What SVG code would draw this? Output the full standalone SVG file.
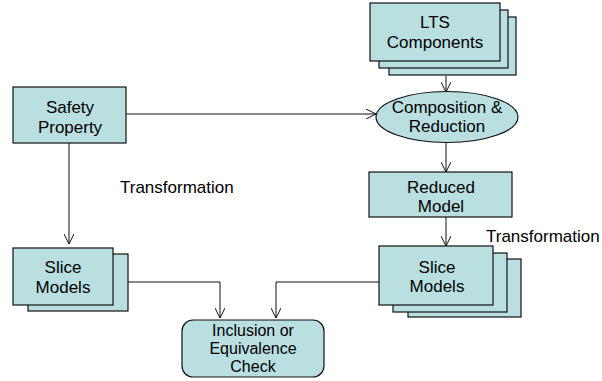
<svg xmlns="http://www.w3.org/2000/svg" width="602" height="381" viewBox="0 0 602 381">
<style>
.n{fill:#b9dfe1;stroke:#111;stroke-width:1.2}
.t{font-family:"Liberation Sans",Arial,sans-serif;font-size:17px;fill:#000;text-anchor:middle}
.s{font-size:16px}
.l{font-family:"Liberation Sans",Arial,sans-serif;font-size:17px;fill:#000}
.c{fill:none;stroke:#111;stroke-width:1}
</style>
<defs>
<marker id="a" viewBox="0 0 10 10" refX="10" refY="5" markerWidth="10" markerHeight="10" markerUnits="userSpaceOnUse" orient="auto">
<path d="M0,0 L10,5 L0,10" fill="none" stroke="#111" stroke-width="1"/>
</marker>
</defs>
<g id="connectors">
<path class="c" d="M446,76 V92" marker-end="url(#a)"/>
<path class="c" d="M126,114 H376" marker-end="url(#a)"/>
<path class="c" d="M446,143 V172" marker-end="url(#a)"/>
<path class="c" d="M446,217 V246" marker-end="url(#a)"/>
<path class="c" d="M69,143 V244" marker-end="url(#a)"/>
<path class="c" d="M128,282 H220 V318" marker-end="url(#a)"/>
<path class="c" d="M379,282 H276 V318" marker-end="url(#a)"/>
</g>
<g id="lts">
<rect class="n" x="389" y="17" width="127" height="58"/>
<rect class="n" x="379" y="10" width="129" height="58"/>
<rect class="n" x="370" y="3" width="130" height="58"/>
<text class="t" x="435" y="28">LTS</text>
<text class="t" x="435" y="48">Components</text>
</g>
<g id="composition">
<ellipse class="n" cx="447" cy="117" rx="71" ry="25.5"/>
<text class="t" x="447" y="113">Composition &amp;</text>
<text class="t" x="447" y="132">Reduction</text>
</g>
<g id="safety">
<rect class="n" x="13" y="87" width="113" height="56"/>
<text class="t" x="70" y="113">Safety</text>
<text class="t" x="70" y="133">Property</text>
</g>
<g id="reduced">
<rect class="n" x="369" y="172" width="143" height="45"/>
<text class="t" x="441" y="193">Reduced</text>
<text class="t" x="441" y="212">Model</text>
</g>
<g id="slice-right">
<rect class="n" x="408" y="259" width="113" height="58"/>
<rect class="n" x="393" y="253" width="114" height="59"/>
<rect class="n" x="379" y="246" width="114" height="59"/>
<text class="t" x="437" y="273">Slice</text>
<text class="t" x="437" y="292">Models</text>
</g>
<g id="slice-left">
<rect class="n" x="28" y="254" width="100" height="57"/>
<rect class="n" x="13" y="248" width="100" height="57"/>
<text class="t" x="63" y="273">Slice</text>
<text class="t" x="63" y="293">Models</text>
</g>
<g id="check">
<rect class="n" x="182" y="320" width="142" height="57" rx="11"/>
<text class="t s" x="253" y="336">Inclusion or</text>
<text class="t s" x="253" y="354">Equivalence</text>
<text class="t s" x="253" y="372">Check</text>
</g>
<g id="labels">
<text class="l" x="120" y="193">Transformation</text>
<text class="l" x="486" y="242">Transformation</text>
</g>
</svg>
